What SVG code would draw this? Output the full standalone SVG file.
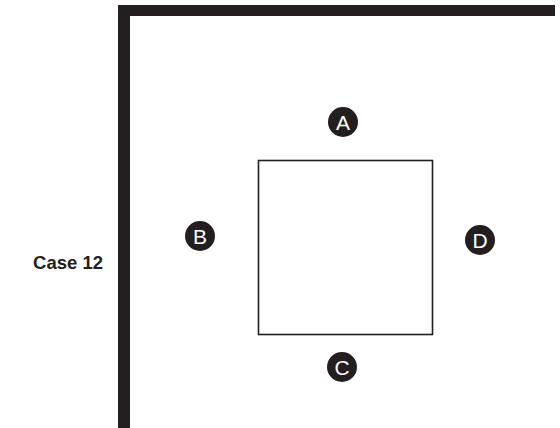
<svg xmlns="http://www.w3.org/2000/svg" width="560" height="428" viewBox="0 0 560 428">
<style>
.wall{fill:#231f20}
.mk circle{fill:#231f20}
.mk text{fill:#fff;font-family:"Liberation Sans",Arial,sans-serif;font-size:21px;text-anchor:middle}
.lbl{fill:#231f20;font-family:"Liberation Sans",Arial,sans-serif;font-size:18.5px;font-weight:bold;text-anchor:end}
</style>
<rect width="560" height="428" fill="#fff"/>
<g id="walls">
<rect class="wall" x="118" y="5" width="437" height="11"/>
<rect class="wall" x="118" y="5" width="12" height="423"/>
</g>
<g id="square">
<rect x="258.5" y="160.5" width="174" height="174" fill="none" stroke="#231f20" stroke-width="1.6"/>
</g>
<g id="A" class="mk"><circle cx="343" cy="122" r="15"/><text x="343" y="129.5">A</text></g>
<g id="B" class="mk"><circle cx="200" cy="236" r="15"/><text x="200" y="243.5">B</text></g>
<g id="D" class="mk"><circle cx="480" cy="240" r="15"/><text x="480" y="247.5">D</text></g>
<g id="C" class="mk"><circle cx="342" cy="367" r="15"/><text x="342" y="374.5">C</text></g>
<g id="label"><text class="lbl" x="103" y="269">Case 12</text></g>
<g id="connectors"/>
</svg>
